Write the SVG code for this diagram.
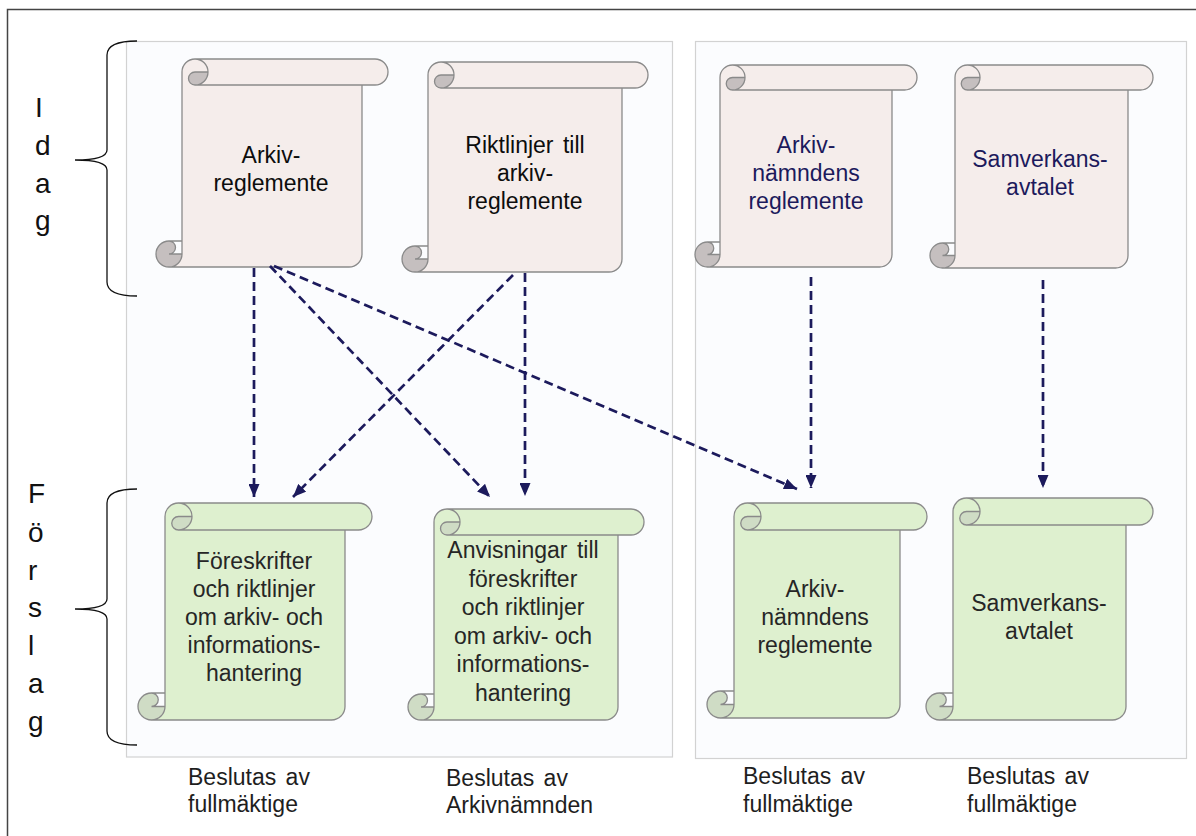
<svg xmlns="http://www.w3.org/2000/svg" width="1196" height="836" viewBox="0 0 1196 836">
<style>
text{font-family:"Liberation Sans",Arial,sans-serif;font-size:23px;}
.ctr{text-anchor:middle;}
.tk{fill:#0d0d0d;}
.tn{fill:#1c1a5c;}
.tg{fill:#262626;}
.lbl{fill:#1e1e1e;word-spacing:3px;}
.side{font-size:28px;fill:#111;}
.pf{fill:#f5edeb;stroke:none;}
.pd{fill:#c5bfbf;stroke:none;}
.gf{fill:#def0cf;stroke:none;}
.gd{fill:#cfdcc5;stroke:none;}
.sk{fill:none;stroke:#8a8a8a;stroke-width:1.3;}
.panel{fill:#fbfcfe;stroke:#d2d2d2;stroke-width:1.2;}
.brace{fill:none;stroke:#111;stroke-width:1.3;}
.arr{fill:none;stroke:#1c1a5c;stroke-width:2.7;stroke-dasharray:9 5;marker-end:url(#ah);}
</style>
<defs>
<marker id="ah" viewBox="0 0 13 11" refX="13" refY="5.5" markerWidth="13" markerHeight="11" markerUnits="userSpaceOnUse" orient="auto">
<path d="M0,0 L13,5.5 L0,11 Z" fill="#1c1a5c"/>
</marker>
</defs>
<rect x="0" y="0" width="1196" height="836" fill="#ffffff"/>
<path d="M7.5,836 L7.5,9.5 L1196,9.5" fill="none" stroke="#444" stroke-width="1.5"/>

<g id="panels">
<rect class="panel" x="126.5" y="41.5" width="546" height="715.5"/>
<rect class="panel" x="695.5" y="41.5" width="491" height="717"/>
</g>

<g id="label-idag">
<path class="brace" d="M137,41 Q107,41 107,55 L107,150 Q107,160 75,160 Q107,160 107,170 L107,282 Q107,296 137,296"/>
<text class="side" x="35" y="117">I</text>
<text class="side" x="35" y="155">d</text>
<text class="side" x="35" y="193">a</text>
<text class="side" x="35" y="230">g</text>
</g>

<g id="label-forslag">
<path class="brace" d="M137,489 Q107,489 107,503 L107,599 Q107,609 75,609 Q107,609 107,619 L107,731 Q107,745 137,745"/>
<text class="side" x="28" y="503">F</text>
<text class="side" x="28" y="542">ö</text>
<text class="side" x="28" y="580">r</text>
<text class="side" x="28" y="617">s</text>
<text class="side" x="28" y="655">l</text>
<text class="side" x="28" y="693">a</text>
<text class="side" x="28" y="731">g</text>
</g>

<g id="idag-arkivreglemente">
<g transform="translate(156,59)">
<path class="pf" d="M13,208 A13 13 0 0 0 26,195 L26,13 A13 13 0 0 1 39,0 L219,0 A13 13 0 0 1 219,26 L206,26 L206,195 A13 13 0 0 1 193,208 Z"/>
<path class="pd" d="M52,13 A13 13 0 0 1 39,26 A6.5 6.5 0 0 1 39,13 Z M26,195 A13 13 0 1 1 13,182 A6.5 6.5 0 0 1 13,195 Z"/>
<path class="sk" d="M26,182 L26,13 A13 13 0 0 1 39,0 L219,0 A13 13 0 0 1 219,26 L206,26 L206,195 A13 13 0 0 1 193,208 L13,208 A13 13 0 0 1 13,182 Z M39,0 A13 13 0 0 1 39,26 A6.5 6.5 0 0 1 39,13 L52,13 M206,26 L39,26 M13,182 A6.5 6.5 0 0 1 13,195 L26,195 M13,208 A13 13 0 0 0 26,195 L26,182"/>
</g>
<text class="ctr tk" x="271" y="163">Arkiv-</text>
<text class="ctr tk" x="271" y="191">reglemente</text>
</g>

<g id="idag-riktlinjer">
<g transform="translate(402,62)">
<path class="pf" d="M13,210 A13 13 0 0 0 26,197 L26,13 A13 13 0 0 1 39,0 L233,0 A13 13 0 0 1 233,26 L220,26 L220,197 A13 13 0 0 1 207,210 Z"/>
<path class="pd" d="M52,13 A13 13 0 0 1 39,26 A6.5 6.5 0 0 1 39,13 Z M26,197 A13 13 0 1 1 13,184 A6.5 6.5 0 0 1 13,197 Z"/>
<path class="sk" d="M26,184 L26,13 A13 13 0 0 1 39,0 L233,0 A13 13 0 0 1 233,26 L220,26 L220,197 A13 13 0 0 1 207,210 L13,210 A13 13 0 0 1 13,184 Z M39,0 A13 13 0 0 1 39,26 A6.5 6.5 0 0 1 39,13 L52,13 M220,26 L39,26 M13,184 A6.5 6.5 0 0 1 13,197 L26,197 M13,210 A13 13 0 0 0 26,197 L26,184"/>
</g>
<text class="ctr tk" x="525" y="153" style="word-spacing:3px">Riktlinjer till</text>
<text class="ctr tk" x="525" y="181">arkiv-</text>
<text class="ctr tk" x="525" y="209">reglemente</text>
</g>

<g id="idag-arkivnamndens">
<g transform="translate(695,65)">
<path class="pf" d="M12.5,202 A12.5 12.5 0 0 0 25,189.5 L25,12.5 A12.5 12.5 0 0 1 37.5,0 L209.5,0 A12.5 12.5 0 0 1 209.5,25 L197,25 L197,189.5 A12.5 12.5 0 0 1 184.5,202 Z"/>
<path class="pd" d="M50,12.5 A12.5 12.5 0 0 1 37.5,25 A6.25 6.25 0 0 1 37.5,12.5 Z M25,189.5 A12.5 12.5 0 1 1 12.5,177 A6.25 6.25 0 0 1 12.5,189.5 Z"/>
<path class="sk" d="M25,177 L25,12.5 A12.5 12.5 0 0 1 37.5,0 L209.5,0 A12.5 12.5 0 0 1 209.5,25 L197,25 L197,189.5 A12.5 12.5 0 0 1 184.5,202 L12.5,202 A12.5 12.5 0 0 1 12.5,177 Z M37.5,0 A12.5 12.5 0 0 1 37.5,25 A6.25 6.25 0 0 1 37.5,12.5 L50,12.5 M197,25 L37.5,25 M12.5,177 A6.25 6.25 0 0 1 12.5,189.5 L25,189.5 M12.5,202 A12.5 12.5 0 0 0 25,189.5 L25,177"/>
</g>
<text class="ctr tn" x="806" y="153">Arkiv-</text>
<text class="ctr tn" x="806" y="181">nämndens</text>
<text class="ctr tn" x="806" y="209">reglemente</text>
</g>

<g id="idag-samverkansavtalet">
<g transform="translate(930,65)">
<path class="pf" d="M12.5,203 A12.5 12.5 0 0 0 25,190.5 L25,12.5 A12.5 12.5 0 0 1 37.5,0 L210.5,0 A12.5 12.5 0 0 1 210.5,25 L198,25 L198,190.5 A12.5 12.5 0 0 1 185.5,203 Z"/>
<path class="pd" d="M50,12.5 A12.5 12.5 0 0 1 37.5,25 A6.25 6.25 0 0 1 37.5,12.5 Z M25,190.5 A12.5 12.5 0 1 1 12.5,178 A6.25 6.25 0 0 1 12.5,190.5 Z"/>
<path class="sk" d="M25,178 L25,12.5 A12.5 12.5 0 0 1 37.5,0 L210.5,0 A12.5 12.5 0 0 1 210.5,25 L198,25 L198,190.5 A12.5 12.5 0 0 1 185.5,203 L12.5,203 A12.5 12.5 0 0 1 12.5,178 Z M37.5,0 A12.5 12.5 0 0 1 37.5,25 A6.25 6.25 0 0 1 37.5,12.5 L50,12.5 M198,25 L37.5,25 M12.5,178 A6.25 6.25 0 0 1 12.5,190.5 L25,190.5 M12.5,203 A12.5 12.5 0 0 0 25,190.5 L25,178"/>
</g>
<text class="ctr tn" x="1040" y="167">Samverkans-</text>
<text class="ctr tn" x="1040" y="195">avtalet</text>
</g>

<g id="forslag-foreskrifter">
<g transform="translate(138,503)">
<path class="gf" d="M13.5,217 A13.5 13.5 0 0 0 27,203.5 L27,13.5 A13.5 13.5 0 0 1 40.5,0 L220.5,0 A13.5 13.5 0 0 1 220.5,27 L207,27 L207,203.5 A13.5 13.5 0 0 1 193.5,217 Z"/>
<path class="gd" d="M54,13.5 A13.5 13.5 0 0 1 40.5,27 A6.75 6.75 0 0 1 40.5,13.5 Z M27,203.5 A13.5 13.5 0 1 1 13.5,190 A6.75 6.75 0 0 1 13.5,203.5 Z"/>
<path class="sk" d="M27,190 L27,13.5 A13.5 13.5 0 0 1 40.5,0 L220.5,0 A13.5 13.5 0 0 1 220.5,27 L207,27 L207,203.5 A13.5 13.5 0 0 1 193.5,217 L13.5,217 A13.5 13.5 0 0 1 13.5,190 Z M40.5,0 A13.5 13.5 0 0 1 40.5,27 A6.75 6.75 0 0 1 40.5,13.5 L54,13.5 M207,27 L40.5,27 M13.5,190 A6.75 6.75 0 0 1 13.5,203.5 L27,203.5 M13.5,217 A13.5 13.5 0 0 0 27,203.5 L27,190"/>
</g>
<text class="ctr tg" x="254" y="569">Föreskrifter</text>
<text class="ctr tg" x="254" y="597">och riktlinjer</text>
<text class="ctr tg" x="254" y="625">om arkiv- och</text>
<text class="ctr tg" x="254" y="653">informations-</text>
<text class="ctr tg" x="254" y="681">hantering</text>
</g>

<g id="forslag-anvisningar">
<g transform="translate(408,509)">
<path class="gf" d="M13,211 A13 13 0 0 0 26,198 L26,13 A13 13 0 0 1 39,0 L223,0 A13 13 0 0 1 223,26 L210,26 L210,198 A13 13 0 0 1 197,211 Z"/>
<path class="gd" d="M52,13 A13 13 0 0 1 39,26 A6.5 6.5 0 0 1 39,13 Z M26,198 A13 13 0 1 1 13,185 A6.5 6.5 0 0 1 13,198 Z"/>
<path class="sk" d="M26,185 L26,13 A13 13 0 0 1 39,0 L223,0 A13 13 0 0 1 223,26 L210,26 L210,198 A13 13 0 0 1 197,211 L13,211 A13 13 0 0 1 13,185 Z M39,0 A13 13 0 0 1 39,26 A6.5 6.5 0 0 1 39,13 L52,13 M210,26 L39,26 M13,185 A6.5 6.5 0 0 1 13,198 L26,198 M13,211 A13 13 0 0 0 26,198 L26,185"/>
</g>
<text class="ctr tg" x="523" y="558" style="word-spacing:3px">Anvisningar till</text>
<text class="ctr tg" x="523" y="587">föreskrifter</text>
<text class="ctr tg" x="523" y="615">och riktlinjer</text>
<text class="ctr tg" x="523" y="644">om arkiv- och</text>
<text class="ctr tg" x="523" y="672">informations-</text>
<text class="ctr tg" x="523" y="701">hantering</text>
</g>

<g id="forslag-arkivnamndens">
<g transform="translate(707,503)">
<path class="gf" d="M13.5,215 A13.5 13.5 0 0 0 27,201.5 L27,13.5 A13.5 13.5 0 0 1 40.5,0 L206.5,0 A13.5 13.5 0 0 1 206.5,27 L193,27 L193,201.5 A13.5 13.5 0 0 1 179.5,215 Z"/>
<path class="gd" d="M54,13.5 A13.5 13.5 0 0 1 40.5,27 A6.75 6.75 0 0 1 40.5,13.5 Z M27,201.5 A13.5 13.5 0 1 1 13.5,188 A6.75 6.75 0 0 1 13.5,201.5 Z"/>
<path class="sk" d="M27,188 L27,13.5 A13.5 13.5 0 0 1 40.5,0 L206.5,0 A13.5 13.5 0 0 1 206.5,27 L193,27 L193,201.5 A13.5 13.5 0 0 1 179.5,215 L13.5,215 A13.5 13.5 0 0 1 13.5,188 Z M40.5,0 A13.5 13.5 0 0 1 40.5,27 A6.75 6.75 0 0 1 40.5,13.5 L54,13.5 M193,27 L40.5,27 M13.5,188 A6.75 6.75 0 0 1 13.5,201.5 L27,201.5 M13.5,215 A13.5 13.5 0 0 0 27,201.5 L27,188"/>
</g>
<text class="ctr tg" x="815" y="597">Arkiv-</text>
<text class="ctr tg" x="815" y="625">nämndens</text>
<text class="ctr tg" x="815" y="653">reglemente</text>
</g>

<g id="forslag-samverkansavtalet">
<g transform="translate(926,498)">
<path class="gf" d="M13.5,222 A13.5 13.5 0 0 0 27,208.5 L27,13.5 A13.5 13.5 0 0 1 40.5,0 L213.5,0 A13.5 13.5 0 0 1 213.5,27 L200,27 L200,208.5 A13.5 13.5 0 0 1 186.5,222 Z"/>
<path class="gd" d="M54,13.5 A13.5 13.5 0 0 1 40.5,27 A6.75 6.75 0 0 1 40.5,13.5 Z M27,208.5 A13.5 13.5 0 1 1 13.5,195 A6.75 6.75 0 0 1 13.5,208.5 Z"/>
<path class="sk" d="M27,195 L27,13.5 A13.5 13.5 0 0 1 40.5,0 L213.5,0 A13.5 13.5 0 0 1 213.5,27 L200,27 L200,208.5 A13.5 13.5 0 0 1 186.5,222 L13.5,222 A13.5 13.5 0 0 1 13.5,195 Z M40.5,0 A13.5 13.5 0 0 1 40.5,27 A6.75 6.75 0 0 1 40.5,13.5 L54,13.5 M200,27 L40.5,27 M13.5,195 A6.75 6.75 0 0 1 13.5,208.5 L27,208.5 M13.5,222 A13.5 13.5 0 0 0 27,208.5 L27,195"/>
</g>
<text class="ctr tg" x="1039" y="611">Samverkans-</text>
<text class="ctr tg" x="1039" y="639">avtalet</text>
</g>

<g id="connectors">
<line class="arr" x1="254" y1="268" x2="254" y2="497"/>
<line class="arr" x1="270" y1="266" x2="490" y2="497"/>
<line class="arr" x1="274" y1="266" x2="797" y2="489"/>
<line class="arr" x1="513" y1="275" x2="293" y2="497"/>
<line class="arr" x1="525" y1="273" x2="525" y2="496"/>
<line class="arr" x1="811" y1="277" x2="811" y2="488"/>
<line class="arr" x1="1043" y1="280" x2="1043" y2="488"/>
</g>

<g id="decisions">
<text class="lbl" x="188" y="785">Beslutas av</text>
<text class="lbl" x="188" y="812">fullmäktige</text>
<text class="lbl" x="446" y="786">Beslutas av</text>
<text class="lbl" x="446" y="813">Arkivnämnden</text>
<text class="lbl" x="743" y="784">Beslutas av</text>
<text class="lbl" x="743" y="812">fullmäktige</text>
<text class="lbl" x="967" y="784">Beslutas av</text>
<text class="lbl" x="967" y="812">fullmäktige</text>
</g>
</svg>
